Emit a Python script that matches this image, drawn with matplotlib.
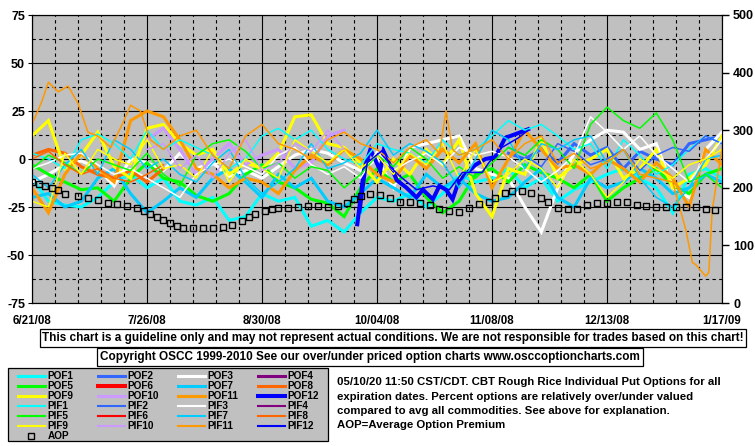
import datetime as dt
import matplotlib
matplotlib.use("Agg")
import matplotlib.pyplot as plt
from matplotlib.lines import Line2D
from matplotlib.patches import Rectangle

plt.rcParams['font.family'] = ['Liberation Sans', 'DejaVu Sans']
plt.rcParams['font.weight'] = 'bold'

START = dt.date(2008, 6, 21)
END = dt.date(2009, 1, 17)
x_tick_labels = ['6/21/08', '7/26/08', '8/30/08', '10/04/08', '11/08/08', '12/13/08', '1/17/09']
left_ticks = [-75, -50, -25, 0, 25, 50, 75]
right_ticks = [0, 100, 200, 300, 400, 500]

# day offsets from 6/21/08
days5 = list(range(0, 211, 5))

pof1 = [-10, -22, -24, -25, -20, -12, -8, -15, -10, -22, -24, -20, -32, -30, -18, -22, -20, -35, -32, -38, -28, -20,
        -22, -18, -25, -18, -8, -12, -10, -5, -15, -10, -22, -16, -12, -8, -5, -10, -15, -28, -8, -5, -10]
pif1 = [3, 0, -5, 10, 13, 8, 0, 15, 5, 10, 6, 2, -5, 0, 12, 16, 10, 15, 5, 0, -3, 8,
        5, 3, -2, 10, 2, 5, 12, 20, 15, 18, 12, 5, 8, -5, 10, 2, -8, -3, 5, 12, 8]
pof3 = [-12, -8, -3, -1, -5, -14, 0, -2, -6, 3, -5, -2, -9, -6, -10, -4, 2, 5, 3, -2, -6, 0,
        -15, 6, 8, 10, 12, -5, -8, -10, -25, -38, -15, 3, 10, 15, 14, 5, 8, -15, -20, 5, 14]
pif3 = [-5, -2, 2, 3, -3, -8, -5, -10, -15, -20, -8, -3, 0, -4, -8, 2, 6, -3, -8, -4, -10, 4,
        -6, -1, 3, -3, 6, 2, 4, 1, -5, -12, -6, 2, 22, 14, 5, 12, 2, -5, -12, 0, 10]
pof5 = [-3, -8, -12, -16, -15, -22, -10, -2, -10, -12, -19, -22, -18, -8, -3, -12, -15, -21, -23, -30, -15, -5,
        -12, -8, -20, -28, -22, -8, -5, -12, -3, -7, -10, -15, -8, -22, -15, -10, -5, -14, -18, -8, -5]
pif5 = [-5, 2, -2, -8, 0, -3, -6, 3, -8, -14, 2, 8, 10, 4, -5, -2, -10, -4, -6, -15, -8, 2,
        -4, 6, 0, -10, -4, -10, -2, 6, 2, 10, 5, -5, 18, 27, 20, 16, 24, 10, -12, -8, -15]
pof7 = [-20, -18, -25, -22, -10, -5, -18, -28, -22, -15, -20, -10, -5, -12, -20, -8, -15, -10, -22, -25, -18, -10,
        -15, -20, -8, -15, -10, -18, -22, -20, -12, -5, -20, -25, -10, -15, -12, -5, -10, -18, -15, -8, -12]
pif7 = [-8, -15, -3, 5, -8, 10, 5, -5, 0, -8, -12, -2, 5, -10, -18, -12, -5, 8, -5, -2, 3, 15,
        2, 8, 4, -2, -15, 0, 15, 10, -5, 8, 5, 10, 12, -2, 5, -10, -20, -25, -15, 0, 2]
pof9 = [12, 20, -5, 2, 14, -4, -10, 16, 18, 8, 2, 5, -8, -2, -5, 3, 22, 23, 8, 6, -2, -12,
        0, -8, 5, -3, 10, -18, -30, -5, -8, 10, -10, -3, 0, 5, -10, -5, 5, -15, -10, -3, 12]
pif9 = [-22, -25, 3, -8, 5, 0, -3, 10, -5, -3, -10, 5, -12, 0, -5, -10, 10, 4, -2, 5, -5, 2,
        -8, 3, -3, 8, -10, 5, -12, -8, 0, -5, -15, 0, -8, -20, -12, 0, -5, -10, -3, 0, 5]
pof11 = [-15, -28, -8, 3, -5, -12, 20, 25, 22, 10, -5, -8, -15, -10, -12, -18, -6, 2, -3, 5, 0, -8,
         -12, 2, -5, 5, -2, 8, -15, 0, 15, 5, -5, -3, -8, 0, -5, -12, -2, -10, -25, 5, -3]

days_pif11 = [0, 3, 5, 8, 11, 14, 17, 20, 24, 28, 30, 33, 36, 40, 45, 50, 55, 60, 65, 70, 75, 80, 85, 90, 95, 100,
              105, 110, 115, 120, 124, 126, 128, 130, 135, 140, 145, 150, 155, 160, 165, 170, 175, 180, 185, 190,
              195, 199, 201, 202, 205, 206, 207, 209, 210]
pif11 = [18, 30, 40, 35, 38, 29, 14, 12, 6, 20, 28, 25, 10, 5, 12, 15, 2, -5, 12, 18, 8, 5, 0, 10, 14, 8,
         5, -2, 6, 10, 3, 25, 5, 2, 5, 10, 0, 8, 12, -2, 3, -5, -2, 5, -8, -10,
         -12, -37, -54, -55, -61, -59, -27, -5, 5]

days_m8 = list(range(0, 41, 5))
pof8 = [2, 5, 3, -4, -8, -10, -6, -12, -5]
pif8 = [0, 4, -3, -8, -5, -10, -12, -8, -3]

days_m10 = list(range(35, 96, 5))
pof10 = [10, 16, 5, -8, 0, 8, -3, 2, 5, -5, -2, 12, 15]
pif10 = [5, 8, -5, 2, -10, 3, 10, -6, -2, 8, 4, 15, 5]

days_pof12 = [99, 101, 103, 106, 107, 110, 111, 114, 117, 119, 122, 124, 126, 128, 130, 132, 135, 138, 141, 144, 148, 151]
pof12 = [-34, -6, 5, -6, 4, -7, -11, -15, -20, -16, -21, -14, -16, -21, -11, -8, -3, 0, 1, 11, 13.5, 15.5]
days_pif12 = [100, 102, 107, 109, 112, 117, 122, 127, 131, 137, 139, 143, 148, 151]
pif12 = [-28, -2, 5, -4, -9, -16, -14, -16, -7, -7, -2, 6, 11, 15]

days_m2 = list(range(145, 211, 5))
pof2 = [3, 0, 5, -2, 8, 2, 6, -5, 4, 0, -3, 8, 10, 12]
pif2 = [6, 2, -4, 8, 4, -3, 0, 5, -6, 2, 6, 4, 12, 8]

days_aop = [0, 2, 4, 6, 8, 10, 14, 17, 20, 23, 26, 29, 32, 34, 36, 38, 40, 42, 44, 46, 49, 52, 55, 58, 61, 64,
            66, 68, 71, 73, 75, 78, 81, 84, 87, 90, 93, 96, 98, 100, 103, 106, 109, 112, 115, 118, 121, 124,
            127, 130, 133, 136, 139, 141, 144, 146, 149, 152, 155, 157, 160, 163, 166, 169, 172, 175, 178,
            181, 184, 187, 190, 193, 196, 199, 202, 205, 208]
aop = [210, 207, 203, 200, 196, 189, 186, 182, 179, 174, 172, 169, 165, 160, 155, 149, 144, 139, 134, 130, 130,
       130, 131, 132, 135, 142, 149, 155, 160, 163, 165, 165, 167, 168, 168, 167, 168, 174, 180, 185, 190, 188,
       182, 175, 175, 174, 170, 163, 160, 158, 165, 172, 175, 182, 191, 194, 194, 191, 182, 175, 165, 163, 163,
       170, 173, 174, 175, 175, 170, 168, 167, 167, 167, 167, 167, 164, 161]

COL = {1: '#00FFFF', 2: '#3366FF', 3: '#FFFFFF', 4: '#800080', 5: '#00FF00', 6: '#FF0000',
       7: '#00CCFF', 8: '#FF6600', 9: '#FFFF00', 10: '#CC99FF', 11: '#FF9900', 12: '#0000FF'}
THICK = 2.2
THIN = 1.1


def dates(ds):
    return [START + dt.timedelta(days=d) for d in ds]


W, H = 755, 446
fig = plt.figure(figsize=(W / 100, H / 100), dpi=100)
fig.patch.set_facecolor('white')
ax = fig.add_axes([32 / W, 1 - 303 / H, 690 / W, 288 / H])
ax.set_facecolor('#C0C0C0')

pof_series = [(1, days5, pof1), (2, days_m2, pof2), (3, days5, pof3), (5, days5, pof5), (7, days5, pof7),
              (8, days_m8, pof8), (9, days5, pof9), (10, days_m10, pof10), (11, days5, pof11),
              (12, days_pof12, pof12)]
pif_series = [(1, days5, pif1), (2, days_m2, pif2), (3, days5, pif3), (5, days5, pif5), (7, days5, pif7),
              (8, days_m8, pif8), (9, days5, pif9), (10, days_m10, pif10), (11, days_pif11, pif11),
              (12, days_pif12, pif12)]
for k, ds, vals in pof_series:
    lw = 2.9 if k == 12 else THICK
    ax.plot(dates(ds), vals, color=COL[k], lw=lw, zorder=3, solid_joinstyle='miter')
for k, ds, vals in pif_series:
    ax.plot(dates(ds), vals, color=COL[k], lw=THIN, zorder=4)

ax.set_xlim(START, END)
ax.set_ylim(-75, 75)
ax.set_xticks(dates(range(0, 211, 35)))
ax.set_xticklabels(x_tick_labels)
ax.set_xticks(dates(range(0, 211, 7)), minor=True)
ax.set_yticks(left_ticks)
ax.set_yticklabels([str(v) for v in left_ticks])
ax.set_yticks([-62.5, -37.5, -12.5, 12.5, 37.5, 62.5], minor=True)
ax.grid(which='major', color='black', lw=0.8, ls='-', zorder=1)
ax.grid(which='minor', color='black', lw=0.8, ls=(0, (3, 3)), zorder=1)
ax.set_axisbelow(True)
ax.tick_params(axis='x', which='both', length=0, pad=9, labelsize=8.3)
ax.tick_params(axis='y', which='major', length=3, labelsize=9, pad=2)
ax.tick_params(axis='y', which='minor', length=0)
for s in ax.spines.values():
    s.set_color('black')
    s.set_linewidth(0.8)
for lab in ax.get_xticklabels() + ax.get_yticklabels():
    lab.set_fontweight('bold')

ax2 = ax.twinx()
ax2.plot(dates(days_aop), aop, ls='none', marker='s', ms=5, mfc='none', mec='black', mew=1.0, zorder=5)
ax2.set_ylim(0, 500)
ax2.set_yticks(right_ticks)
ax2.set_yticklabels([str(v) for v in right_ticks])
ax2.tick_params(axis='y', length=5, width=1.0, labelsize=9, pad=3)
for lab in ax2.get_yticklabels():
    lab.set_fontweight('bold')
for s in ax2.spines.values():
    s.set_color('black')
    s.set_linewidth(0.8)

# disclaimer boxes
fig.text(393 / W, 1 - 338 / H,
         'This chart is a guideline only and may not represent actual conditions. We are not responsible for trades based on this chart!',
         ha='center', va='center', fontsize=8.5, fontweight='bold',
         bbox=dict(boxstyle='square,pad=0.22', fc='white', ec='black', lw=0.9))
fig.text(370 / W, 1 - 357 / H,
         'Copyright OSCC 1999-2010 See our over/under priced option charts www.osccoptioncharts.com',
         ha='center', va='center', fontsize=8.5, fontweight='bold',
         bbox=dict(boxstyle='square,pad=0.22', fc='white', ec='black', lw=0.9))

# legend box
fig.patches.append(Rectangle((8 / W, 1 - 441 / H), 320 / W, 73 / H, transform=fig.transFigure,
                             fc='#C0C0C0', ec='black', lw=0.9))
leg_rows = [['POF1', 'POF2', 'POF3', 'POF4'], ['POF5', 'POF6', 'POF7', 'POF8'],
            ['POF9', 'POF10', 'POF11', 'POF12'], ['PIF1', 'PIF2', 'PIF3', 'PIF4'],
            ['PIF5', 'PIF6', 'PIF7', 'PIF8'], ['PIF9', 'PIF10', 'PIF11', 'PIF12']]
col_x = [18, 98, 178, 258]
for r, row in enumerate(leg_rows):
    y = 375.7 + 10 * r
    for c, name in enumerate(row):
        k = int(name[3:])
        thick = name.startswith('POF')
        lw = (2.9 if k in (6, 12) else THICK) if thick else 1.5
        fig.add_artist(Line2D([col_x[c] / W, (col_x[c] + 27) / W], [1 - y / H, 1 - y / H],
                              transform=fig.transFigure, color=COL[k], lw=lw))
        fig.text((col_x[c] + 29) / W, 1 - y / H, name, ha='left', va='center', fontsize=7.2, fontweight='bold')
y = 435.7
fig.add_artist(Line2D([31 / W], [1 - y / H], transform=fig.transFigure, ls='none', marker='s', ms=5,
                      mfc='none', mec='black', mew=1.0))
fig.text(48 / W, 1 - y / H, 'AOP', ha='left', va='center', fontsize=7.2, fontweight='bold')

info = ['05/10/20 11:50 CST/CDT. CBT Rough Rice Individual Put Options for all',
        'expiration dates. Percent options are relatively over/under valued',
        'compared to avg all commodities. See above for explanation.',
        'AOP=Average Option Premium']
for i, line in enumerate(info):
    fig.text(337 / W, 1 - (382 + 14.5 * i) / H, line, ha='left', va='center', fontsize=8.2, fontweight='bold')

fig.savefig('out.png', dpi=100, facecolor='white')
